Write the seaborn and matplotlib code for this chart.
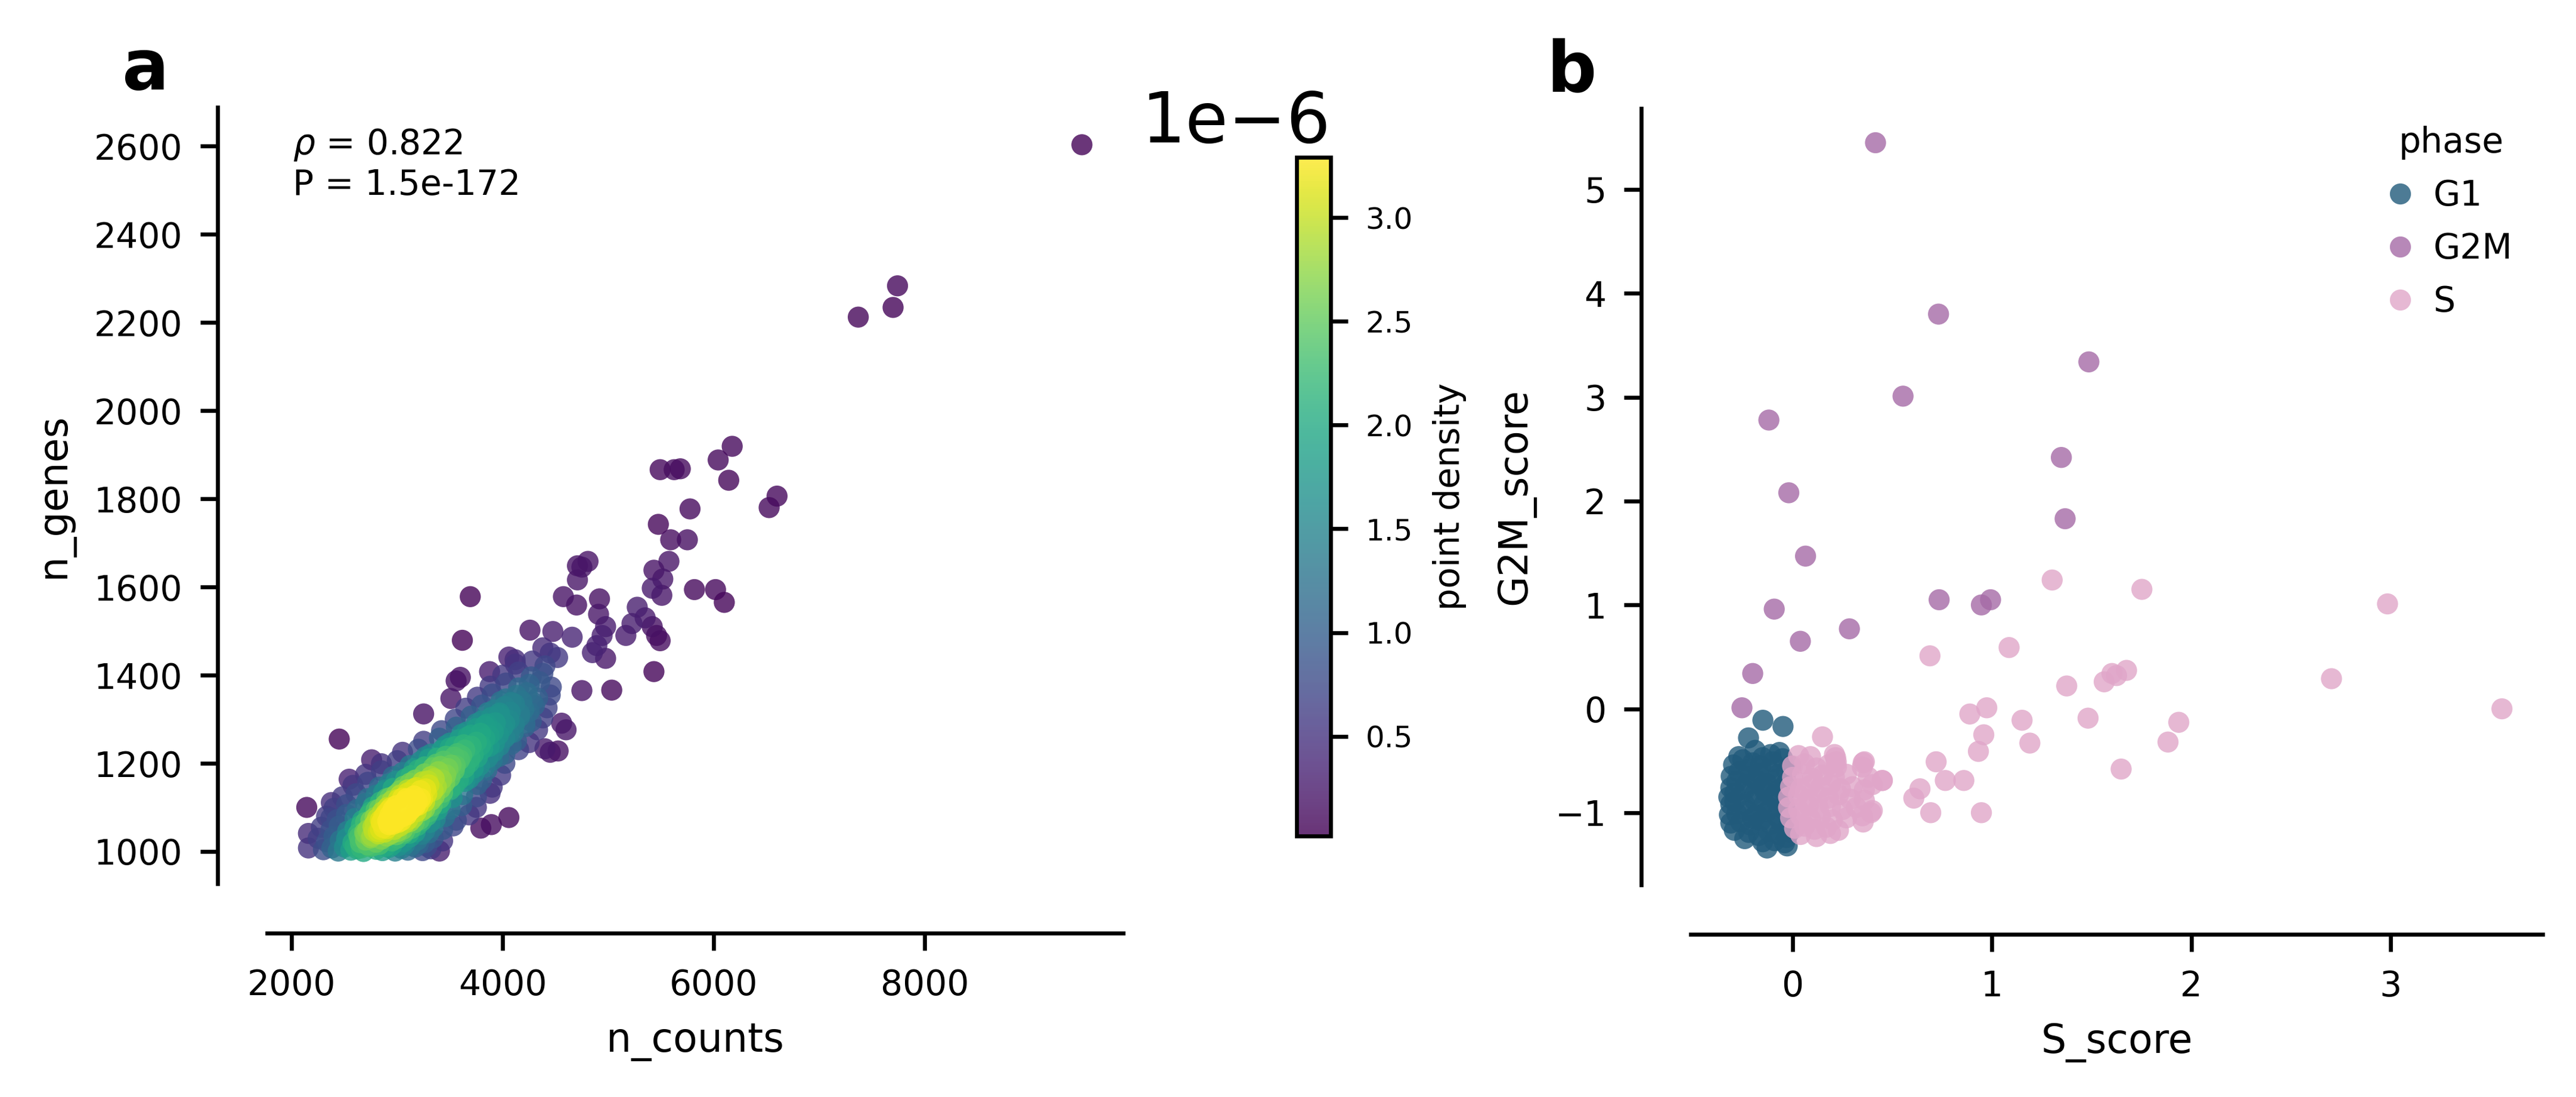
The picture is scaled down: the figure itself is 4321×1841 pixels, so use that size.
import numpy as np
import pandas as pd
import matplotlib
matplotlib.use("Agg")
import matplotlib.pyplot as plt
import matplotlib.colors as mcolors
import seaborn as sns

# ---------------- Panel a data: (n_counts, n_genes) ----------------
rows_bottom = [
    (2300,1004),(2380,1008),(2440,1001),(2500,1010),(2560,1003),(2620,1006),(2680,1000),(2740,1011),
    (2800,1005),(2860,1002),(2920,1009),(2980,1001),(3040,1007),(3100,1003),(3170,1010),(3240,1002),
    (3320,1006),(3400,1001),
    (2250,1030),(2330,1022),(2400,1034),(2460,1025),(2520,1029),(2580,1020),(2640,1033),(2700,1026),
    (2750,1031),(2800,1021),(2850,1028),(2900,1035),(2950,1024),(3000,1030),(3060,1022),(3120,1033),
    (3190,1026),(3260,1020),(3340,1031),(3430,1024),
    (2280,1055),(2370,1048),(2450,1058),(2530,1046),(2600,1053),(2660,1060),(2720,1049),(2770,1056),
    (2820,1045),(2870,1054),(2920,1061),(2970,1050),(3020,1057),(3070,1046),(3130,1052),(3190,1059),
    (3260,1047),(3340,1055),(3430,1050),(3530,1058),
]
rows_middle = [
    (2330,1080),(2430,1072),(2520,1084),(2600,1075),(2670,1070),(2730,1082),(2790,1077),(2840,1071),
    (2890,1085),(2940,1074),(2990,1080),(3040,1070),(3090,1083),(3150,1076),(3210,1072),(3280,1081),
    (3360,1074),(3450,1079),(3560,1071),(3680,1083),
    (2400,1098),(2520,1106),(2620,1095),(2700,1109),(2770,1101),(2830,1096),(2890,1107),(2940,1099),
    (2990,1104),(3040,1095),(3090,1108),(3140,1100),(3200,1105),(3260,1097),(3330,1103),(3410,1109),
    (3500,1096),(3610,1104),(3750,1100),
    (2480,1124),(2610,1131),(2720,1120),(2800,1128),(2870,1134),(2930,1122),(2990,1129),(3050,1121),
    (3100,1133),(3160,1126),(3220,1120),(3280,1131),(3350,1125),(3430,1134),(3520,1122),(3620,1129),
    (3750,1124),(3880,1132),
    (2580,1150),(2720,1157),(2830,1146),(2920,1153),(2990,1160),(3060,1148),(3120,1155),(3180,1145),
    (3240,1158),(3300,1151),(3370,1147),(3450,1156),(3540,1149),(3640,1159),(3760,1152),(3900,1146),
]
rows_ridge = [
    (2700,1175),(2850,1183),(2960,1170),(3050,1179),(3130,1172),(3200,1185),(3260,1176),(3320,1170),
    (3390,1181),(3460,1174),(3540,1184),(3630,1171),(3730,1178),(3850,1185),(3980,1173),
    (2850,1199),(3000,1206),(3120,1195),(3220,1204),(3300,1210),(3370,1198),(3440,1205),(3510,1196),
    (3590,1208),(3680,1201),(3780,1195),(3900,1207),(4020,1200),
    (3050,1225),(3200,1232),(3320,1221),(3420,1229),(3500,1235),(3570,1222),(3640,1230),(3720,1220),
    (3810,1233),(3910,1226),(4020,1221),(4150,1231),
    (3250,1250),(3400,1257),(3500,1246),(3590,1254),(3670,1260),(3750,1248),(3830,1256),(3920,1245),
    (4020,1258),(4130,1251),(4250,1247),
    (3420,1274),(3560,1282),(3660,1271),(3750,1279),(3830,1285),(3910,1272),(4000,1281),(4100,1270),
    (4210,1283),(4330,1276),
    (3550,1300),(3700,1307),(3800,1296),(3890,1304),(3970,1310),(4060,1298),(4160,1306),(4270,1295),
    (4380,1303),
    (3650,1325),(3800,1332),(3920,1321),(4020,1329),(4110,1335),(4200,1323),(4300,1331),(4420,1326),
    (3760,1350),(3900,1357),(4030,1346),(4130,1354),(4230,1360),(4330,1348),(4450,1355),
    (3880,1375),(4030,1382),(4150,1371),(4250,1379),(4350,1385),(4460,1373),
    (4000,1400),(4150,1407),(4270,1396),(4380,1404),
    (4120,1425),(4280,1432),(4400,1421),(4450,1450),(4520,1440),(4380,1462),
]
core_extra = [
    (2760,1035),(2820,1040),(2880,1044),(2940,1040),(3000,1045),(3060,1041),(2790,1063),(2850,1066),
    (2910,1069),(2960,1062),(3010,1066),(3070,1064),(3120,1068),(2860,1090),(2920,1093),(2970,1089),
    (3020,1092),(3080,1088),(3130,1095),(3180,1090),(2950,1115),(3010,1118),(3070,1113),(3130,1117),
    (3190,1114),(3240,1119),(2700,1040),(2650,1020),(2720,1015),(3100,1140),(3160,1142),(3220,1138),
]
core_fill = [
    (2600,1012),(2660,1008),(2770,1013),(2830,1016),(2890,1012),(2950,1015),(3010,1013),(3070,1016),
    (3130,1014),(3200,1017),(3280,1012),
    (2630,1040),(2690,1043),(2780,1046),(2840,1050),(2900,1052),(2990,1038),(3050,1050),(3110,1041),
    (3170,1044),(3230,1039),(3300,1042),
    (2700,1066),(2750,1070),(2810,1074),(2870,1078),(2930,1082),(2980,1068),(3040,1078),(3100,1072),
    (3160,1065),(3230,1069),(3310,1066),
    (2750,1090),(2800,1094),(2910,1100),(2960,1095),(3060,1099),(3110,1091),(3170,1103),(3230,1092),
    (3300,1090),(3380,1094),
    (2840,1112),(2900,1120),(3030,1128),(3090,1120),(3160,1110),(3260,1113),(3320,1116),(3400,1120),
    (2890,1140),(2960,1143),(3030,1138),(3270,1142),(3340,1138),(3410,1143),(3500,1140),
]
ridge_fill = [
    (3080,1165),(3170,1162),(3290,1160),(3350,1165),(3420,1163),(3500,1168),(3580,1162),(3680,1165),
    (3800,1163),
    (3160,1188),(3260,1192),(3340,1190),(3410,1193),(3480,1188),(3550,1195),(3640,1190),(3720,1189),
    (3830,1192),
    (3270,1215),(3380,1212),(3460,1216),(3540,1214),(3610,1217),(3690,1212),(3760,1214),(3860,1213),
    (3960,1215),
    (3460,1240),(3550,1238),(3630,1242),(3700,1239),(3790,1241),(3870,1238),(3970,1240),(4080,1243),
    (3610,1266),(3700,1264),(3790,1268),(3870,1263),(3960,1265),(4060,1267),
    (3750,1290),(3850,1289),(3930,1292),(4020,1290),(4110,1288),(4210,1291),
    (3860,1315),(3970,1314),(4070,1316),(4160,1313),(4250,1317),
    (3980,1340),(4080,1338),(4180,1341),(4280,1339),
]
outliers = [
    (9490,2603),(7370,2212),(7700,2234),(7742,2283),(6175,1919),(6042,1888),(6142,1842),(6600,1806),
    (6525,1780),(5492,1866),(5625,1866),(5683,1868),(5775,1777),(5475,1742),(5592,1707),(5750,1707),
    (5575,1658),(5433,1638),(5517,1618),(5417,1597),(5508,1581),(5817,1594),(6017,1594),(6100,1565),
    (4808,1658),(4708,1648),(4750,1645),(4708,1616),(4575,1578),(4700,1559),(4917,1573),(4908,1538),
    (4975,1510),(4942,1490),(5275,1554),(5225,1517),(5350,1530),(5417,1510),(5458,1490),(5492,1478),
    (5167,1490),(5433,1408),(5033,1366),(4750,1365),(4975,1438),(4892,1467),(4850,1451),(4658,1486),
    (4475,1499),(4258,1502),(3692,1578),(3617,1479),(3250,1312),(2450,1255),(2142,1100),(2158,1041),
    (2158,1008),(2375,1111),(4058,1077),(3792,1053),(3892,1061),(4450,1225),(4525,1228),(4600,1276),
    (4558,1291),(3558,1387),(3508,1347),(3875,1408),(4117,1435),(2544,1164),(2757,1208),(2370,1076),
    (4058,1441),(3598,1395),(4400,1233),
]
rho_text = r"$\rho$ = 0.822" + "\nP = 1.5e-172"

# ---------------- Panel b data: (S_score, G2M_score) ----------------
g1_points = [
    (-0.149,-0.11),(-0.048,-0.17),(-0.221,-0.28),(-0.066,-0.42),(-0.188,-0.40),(-0.296,-0.54),
    (-0.308,-0.65),(-0.310,-0.76),(-0.310,-0.92),(-0.317,-1.02),(-0.292,-1.17),(-0.128,-1.34),
    (-0.027,-1.32),(-0.017,-1.19),
    (-0.25,-0.49),(-0.20,-0.52),(-0.15,-0.47),(-0.10,-0.51),(-0.05,-0.48),
    (-0.27,-0.61),(-0.22,-0.58),(-0.17,-0.62),(-0.12,-0.59),(-0.07,-0.63),(-0.03,-0.60),
    (-0.28,-0.70),(-0.23,-0.73),(-0.18,-0.69),(-0.13,-0.72),(-0.08,-0.68),(-0.03,-0.71),
    (-0.29,-0.81),(-0.24,-0.78),(-0.19,-0.82),(-0.14,-0.79),(-0.09,-0.83),(-0.04,-0.80),
    (-0.29,-0.89),(-0.24,-0.92),(-0.19,-0.88),(-0.14,-0.91),(-0.09,-0.87),(-0.04,-0.93),
    (-0.28,-1.01),(-0.23,-0.98),(-0.18,-1.02),(-0.13,-0.99),(-0.08,-1.03),(-0.03,-1.00),
    (-0.26,-1.09),(-0.21,-1.12),(-0.16,-1.08),(-0.11,-1.11),(-0.06,-1.09),(-0.02,-1.12),
    (-0.22,-1.19),(-0.17,-1.22),(-0.12,-1.18),(-0.07,-1.21),(-0.03,-1.24),
    (-0.15,-1.28),(-0.09,-1.27),(-0.04,-1.29),
    (-0.21,-0.65),(-0.15,-0.75),(-0.11,-0.95),(-0.20,-1.05),(-0.06,-0.77),(-0.16,-0.55),
    (-0.32,-0.85),(-0.31,-1.10),(-0.24,-1.25),(-0.27,-0.46),(-0.11,-0.44),(-0.01,-0.55),
]
g2m_points = [
    (0.416,5.45),(0.732,3.80),(1.486,3.34),(0.554,3.01),(-0.119,2.78),(1.348,2.42),(1.367,1.83),
    (-0.019,2.08),(0.065,1.47),(-0.092,0.96),(0.735,1.05),(0.947,1.00),(0.993,1.05),(0.285,0.77),
    (0.039,0.65),(-0.200,0.34),(-0.254,0.01),
]
s_points = [
    (1.302,1.24),(1.752,1.15),(2.984,1.01),(1.086,0.59),(0.689,0.51),(2.703,0.29),(1.563,0.26),
    (1.602,0.34),(1.625,0.32),(1.675,0.37),(1.375,0.22),(3.558,0.00),(0.889,-0.05),(0.974,0.01),
    (1.151,-0.11),(1.482,-0.09),(1.937,-0.13),(0.959,-0.25),(1.190,-0.33),(1.883,-0.32),
    (0.932,-0.41),(1.648,-0.58),(0.720,-0.51),(0.766,-0.69),(0.859,-0.69),(0.639,-0.77),
    (0.608,-0.86),(0.693,-1.00),(0.947,-1.00),(0.450,-0.69),(0.354,-0.52),(0.150,-0.27),
    (0.216,-0.47),(0.219,-0.51),(0.400,-0.73),(0.393,-1.00),(0.354,-1.09),
    (0.03,-0.45),(0.09,-0.46),(0.21,-0.44),(0.36,-0.51),(0.22,-0.56),
    (0.00,-0.55),(0.06,-0.53),(0.12,-0.57),(0.18,-0.54),(0.35,-0.56),
    (0.00,-0.66),(0.05,-0.63),(0.10,-0.67),(0.15,-0.64),(0.21,-0.66),(0.27,-0.63),(0.38,-0.66),(0.45,-0.69),
    (-0.01,-0.75),(0.04,-0.77),(0.09,-0.74),(0.14,-0.76),(0.19,-0.73),(0.24,-0.77),(0.30,-0.75),(0.36,-0.78),
    (-0.02,-0.85),(0.03,-0.83),(0.08,-0.87),(0.13,-0.84),(0.18,-0.86),(0.23,-0.83),(0.29,-0.87),(0.36,-0.88),
    (-0.02,-0.95),(0.03,-0.97),(0.08,-0.93),(0.13,-0.96),(0.19,-0.94),(0.25,-0.97),(0.32,-0.95),(0.40,-0.98),
    (-0.01,-1.05),(0.04,-1.03),(0.09,-1.06),(0.14,-1.04),(0.20,-1.07),(0.27,-1.05),(0.35,-1.03),
    (0.01,-1.15),(0.06,-1.13),(0.11,-1.16),(0.17,-1.14),(0.23,-1.17),
    (0.04,-1.21),(0.12,-1.23),(0.19,-1.20),
]
phase_order = ["G1", "G2M", "S"]
phase_colors = ["#215a7b", "#a56ba6", "#e0a6c9"]

# ---------------- helpers ----------------
def gaussian_kde_2d(x, y, factor):
    data = np.vstack([x, y]).astype(float)
    n = data.shape[1]
    cov = np.cov(data) * factor ** 2
    inv = np.linalg.inv(cov)
    norm = 1.0 / (2 * np.pi * np.sqrt(np.linalg.det(cov)) * n)
    dx = data[0][:, None] - data[0][None, :]
    dy = data[1][:, None] - data[1][None, :]
    q = inv[0, 0] * dx ** 2 + 2 * inv[0, 1] * dx * dy + inv[1, 1] * dy ** 2
    return norm * np.exp(-0.5 * q).sum(axis=1)

# ---------------- figure ----------------
sns.set_style("ticks")
plt.rcParams["font.family"] = ["DejaVu Sans"]
plt.rcParams.update({
    "xtick.labelsize": 7, "ytick.labelsize": 7, "axes.labelsize": 8,
    "text.color": "black", "axes.labelcolor": "black", "axes.edgecolor": "black",
    "xtick.color": "black", "ytick.color": "black",
})

W, H = 4321, 1841
fig = plt.figure(figsize=(W / 600, H / 600), dpi=600)
ax_a = fig.add_axes([448 / W, 1 - 1483 / H, 1436 / W, 1303 / H])
cax = fig.add_axes([2175 / W, 1 - 1403 / H, 57 / W, 1139 / H])
ax_b = fig.add_axes([2836 / W, 1 - 1485 / H, 1429 / W, 1303 / H])

# Panel a
pts_a = rows_bottom + rows_middle + rows_ridge + core_extra + core_fill + ridge_fill + outliers
df_a = pd.DataFrame(pts_a, columns=["n_counts", "n_genes"])
df_a["density"] = gaussian_kde_2d(df_a["n_counts"], df_a["n_genes"], 0.30)
df_a = df_a.sort_values("density").reset_index(drop=True)
norm = mcolors.Normalize(vmin=0.02e-6, vmax=3.29e-6)
sns.scatterplot(data=df_a, x="n_counts", y="n_genes", hue="density", palette="viridis",
                hue_norm=norm, s=18, alpha=0.8, linewidth=0, legend=False, ax=ax_a)
ax_a.set_xlim(1766, 9881)
ax_a.set_ylim(927, 2688)
ax_a.set_xticks([2000, 4000, 6000, 8000])
ax_a.set_yticks([1000, 1200, 1400, 1600, 1800, 2000, 2200, 2400, 2600])
ax_a.text(0.03, 0.975, rho_text, transform=ax_a.transAxes, ha="left", va="top", fontsize=7)
sns.despine(ax=ax_a, offset=10)

vir = plt.get_cmap("viridis")(np.linspace(0, 1, 256))
vir[:, 3] = 0.8
cmap_alpha = mcolors.ListedColormap(vir)
sm = plt.cm.ScalarMappable(norm=norm, cmap=cmap_alpha)
cb = fig.colorbar(sm, cax=cax, ticks=[0.5e-6, 1.0e-6, 1.5e-6, 2.0e-6, 2.5e-6, 3.0e-6])
cb.ax.tick_params(labelsize=6)
cb.set_label("point density", fontsize=7)
cb.ax.yaxis.get_offset_text().set_fontsize(14)

# Panel b
df_b = pd.concat([
    pd.DataFrame(g1_points, columns=["S_score", "G2M_score"]).assign(phase="G1"),
    pd.DataFrame(g2m_points, columns=["S_score", "G2M_score"]).assign(phase="G2M"),
    pd.DataFrame(s_points, columns=["S_score", "G2M_score"]).assign(phase="S"),
], ignore_index=True)
sns.scatterplot(data=df_b, x="S_score", y="G2M_score", hue="phase", hue_order=phase_order,
                palette=dict(zip(phase_order, phase_colors)), s=18, alpha=0.8, linewidth=0, ax=ax_b)
ax_b.set_xlim(-0.511, 3.762)
ax_b.set_ylim(-1.695, 5.78)
ax_b.set_xticks([0, 1, 2, 3])
ax_b.set_yticks([-1, 0, 1, 2, 3, 4, 5])
sns.move_legend(ax_b, "upper right", bbox_to_anchor=(0.985, 1.0), frameon=False, title="phase",
                fontsize=7, title_fontsize=7, handlelength=0.6, handletextpad=0.65,
                labelspacing=0.55, borderaxespad=0.3, borderpad=0.2)
sns.despine(ax=ax_b, offset=10)

fig.text(205 / W, 1 - 150 / H, "a", fontsize=14, fontweight="bold", ha="left", va="baseline")
fig.text(2594 / W, 1 - 153 / H, "b", fontsize=14, fontweight="bold", ha="left", va="baseline")

fig.savefig("out.png", dpi=600)
